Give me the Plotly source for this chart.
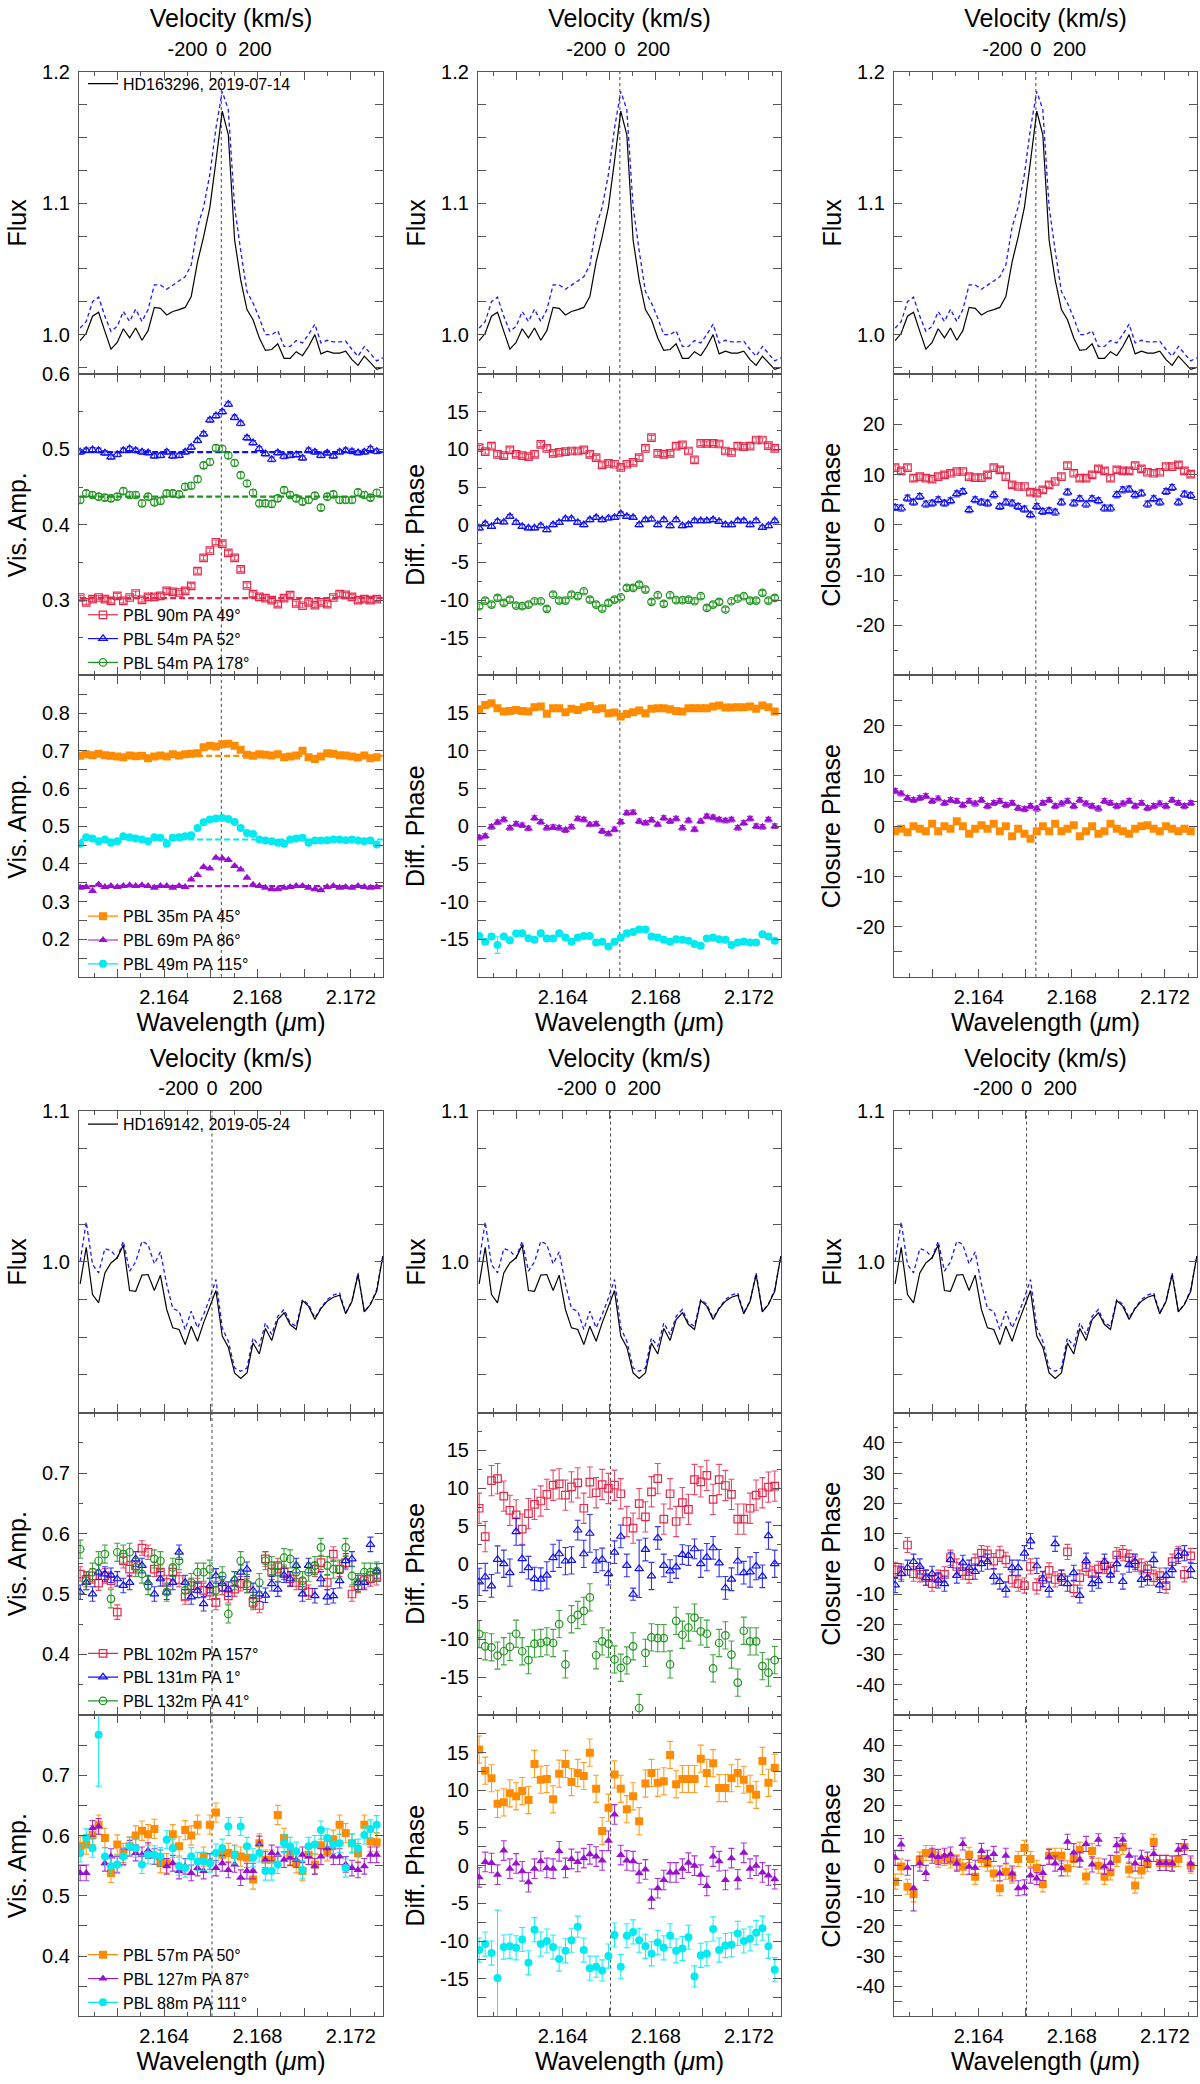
import plotly.graph_objects as go

W, H = 1200, 2084
FONT = "Liberation Sans, Arial, Helvetica, sans-serif"

# ---------------- wavelength grid (micron) ----------------
wl = [2.16040, 2.16066, 2.16093, 2.16119, 2.16146, 2.16172, 2.16199, 2.16225, 2.16252, 2.16278,
      2.16305, 2.16331, 2.16358, 2.16384, 2.16411, 2.16437, 2.16464, 2.16490, 2.16516, 2.16543,
      2.16569, 2.16596, 2.16622, 2.16649, 2.16675, 2.16702, 2.16728, 2.16755, 2.16781, 2.16808,
      2.16834, 2.16861, 2.16887, 2.16914, 2.16940, 2.16966, 2.16993, 2.17019, 2.17046, 2.17072,
      2.17099, 2.17125, 2.17152, 2.17178, 2.17205, 2.17231, 2.17258, 2.17284, 2.17311, 2.17337]
wl_vis = wl[:49]
wl_range = [2.16035, 2.17338]
wl_major_ticks = [2.162, 2.164, 2.166, 2.168, 2.170, 2.172]
wl_label_ticks = [2.164, 2.168, 2.172]
vel_ticks = [-200, 0, 200]
line_center = [2.16645, 2.16605]   # top star, bottom star
C_KMS = 299792.458

# ---------------- HD163296 (top) ----------------
flux_t_obs = [0.9955, 1.001, 1.014, 1.017, 1.0025, 0.989, 0.994, 1.0045, 0.9975, 1.005, 0.9957, 1.003, 1.0207,
              1.020, 1.015, 1.0176, 1.019, 1.0207, 1.029, 1.0554, 1.0743, 1.097, 1.132, 1.170, 1.152, 1.072,
              1.0416, 1.019, 1.0113, 0.9975, 0.988, 0.9887, 0.993, 0.982, 0.982, 0.987, 0.984, 0.991, 1.000,
              0.9854, 0.9874, 0.986, 0.986, 0.9874, 0.981, 0.9766, 0.9836, 0.9786, 0.9736, 0.975]
flux_t_cor = [1.005, 1.010, 1.025, 1.0285, 1.0139, 1.0025, 1.0063, 1.0176, 1.010, 1.0194, 1.010, 1.019, 1.0378,
              1.0378, 1.0345, 1.0378, 1.041, 1.044, 1.053, 1.082, 1.097, 1.122, 1.157, 1.185, 1.171, 1.097,
              1.064, 1.0327, 1.024, 1.0126, 1.000, 1.000, 1.003, 0.991, 0.991, 0.9955, 0.9937, 1.000, 1.008,
              0.9937, 0.9957, 0.9945, 0.9945, 0.995, 0.9887, 0.9836, 0.991, 0.986, 0.980, 0.9824]

va_t1_red = [0.3035, 0.297, 0.3013, 0.3035, 0.3013, 0.299, 0.3057, 0.299, 0.3035, 0.3088, 0.3004, 0.3044, 0.3044,
             0.3057, 0.3123, 0.311, 0.3101, 0.3123, 0.3189, 0.3386, 0.3561, 0.3658, 0.3768, 0.375, 0.3627, 0.3561,
             0.3408, 0.3197, 0.3079, 0.3044, 0.3026, 0.3, 0.2947, 0.3026, 0.3066, 0.2956, 0.2925, 0.2969, 0.2934,
             0.2969, 0.2947, 0.3035, 0.3079, 0.307, 0.3044, 0.3, 0.3013, 0.3, 0.3013]
va_t1_blue = [0.4965, 0.4987, 0.4996, 0.4987, 0.4952, 0.490, 0.4934, 0.4987, 0.5009, 0.4987, 0.4965, 0.4956, 0.4912,
              0.492, 0.4965, 0.4912, 0.492, 0.4965, 0.503, 0.5118, 0.5206, 0.539, 0.5447, 0.550, 0.560, 0.5425,
              0.5346, 0.5154, 0.5088, 0.5009, 0.4943, 0.4868, 0.4956, 0.4908, 0.492, 0.493, 0.4886, 0.4987, 0.4965,
              0.492, 0.4952, 0.4912, 0.4965, 0.4987, 0.4974, 0.4956, 0.4965, 0.5009, 0.4974]
va_t1_green = [0.4329, 0.4417, 0.4395, 0.4373, 0.436, 0.4351, 0.4373, 0.4447, 0.4395, 0.4395, 0.4285, 0.4373, 0.4298,
               0.4316, 0.4417, 0.4417, 0.4404, 0.4504, 0.4518, 0.4605, 0.4789, 0.4833, 0.5018, 0.5009, 0.492, 0.482,
               0.4658, 0.4548, 0.4425, 0.4285, 0.4285, 0.4276, 0.4351, 0.446, 0.4395, 0.4351, 0.4307, 0.4329, 0.4386,
               0.4228, 0.4373, 0.4404, 0.4329, 0.4329, 0.4329, 0.443, 0.4395, 0.436, 0.4425]
va_t1_cont = [0.3026, 0.4965, 0.4373]

va_t2_orange = [0.6868, 0.6912, 0.6885, 0.6921, 0.6885, 0.6868, 0.685, 0.6832, 0.6877, 0.6859, 0.6868, 0.6806, 0.685,
                0.6877, 0.685, 0.6912, 0.6877, 0.6912, 0.6921, 0.6938, 0.7097, 0.7132, 0.7115, 0.7176, 0.7185, 0.7132,
                0.7026, 0.6894, 0.6868, 0.6912, 0.6894, 0.6877, 0.6912, 0.6832, 0.685, 0.6877, 0.70, 0.6832, 0.678,
                0.685, 0.6938, 0.6921, 0.6885, 0.6877, 0.685, 0.6824, 0.6877, 0.6806, 0.6832]
va_t2_purple = [0.3367, 0.3384, 0.3279, 0.3455, 0.3384, 0.3411, 0.3384, 0.3411, 0.3429, 0.3411, 0.3429, 0.3411, 0.3367,
                0.3411, 0.3411, 0.3367, 0.3411, 0.3384, 0.3587, 0.3702, 0.3914, 0.3878, 0.416, 0.4143, 0.4099, 0.394,
                0.3852, 0.3631, 0.3446, 0.3411, 0.3367, 0.3323, 0.3323, 0.3367, 0.3384, 0.3411, 0.3411, 0.3367, 0.3323,
                0.3297, 0.3384, 0.3411, 0.3367, 0.3384, 0.3367, 0.3411, 0.3384, 0.3367, 0.3384]
va_t2_cyan = [0.4531, 0.4707, 0.4672, 0.4601, 0.4646, 0.4557, 0.4601, 0.4734, 0.4707, 0.4672, 0.4646, 0.4601, 0.4707,
              0.469, 0.4531, 0.469, 0.4707, 0.4734, 0.476, 0.4954, 0.5104, 0.5175, 0.5201, 0.5219, 0.5192, 0.5113,
              0.4954, 0.4822, 0.4795, 0.4646, 0.4619, 0.4601, 0.4557, 0.4531, 0.4646, 0.4672, 0.469, 0.4557, 0.4619,
              0.4619, 0.4628, 0.4646, 0.4646, 0.4628, 0.4646, 0.4619, 0.4601, 0.4619, 0.4513]
va_t2_cont = [0.6868, 0.3411, 0.4646]

dp_t1_red = [10.23, 9.70, 10.45, 9.35, 9.18, 9.93, 9.35, 9.18, 9.04, 9.35, 10.67, 10.15, 9.48, 9.62, 9.70, 9.79, 9.79,
             9.93, 9.35, 8.91, 7.94, 8.16, 8.03, 7.63, 8.03, 8.29, 8.91, 10.15, 11.56, 9.48, 9.35, 9.48, 10.45, 10.59,
             9.79, 8.6, 10.81, 10.81, 10.81, 10.72, 9.79, 9.62, 10.45, 10.37, 10.45, 11.25, 11.25, 10.5, 10.15]
dp_t1_blue = [-0.44, 0.13, -0.22, 0.44, 0.35, 1.10, 0.31, -0.22, -0.44, -0.44, -0.13, -0.66, 0.0, 0.31, 0.79, 0.79,
              0.31, 0.0, 0.66, 0.97, 0.66, 0.88, 0.97, 1.46, 1.10, 0.97, 0.0, 0.66, 0.75, 0.0, 0.66, -0.13, 0.66,
              -0.13, 0.0, 0.53, 0.53, 0.53, 0.66, 0.44, 0.0, 0.0, 0.53, 0.53, 0.0, 0.53, -0.35, -0.13, 0.53]
dp_t1_green = [-10.81, -10.06, -10.59, -9.70, -10.37, -9.93, -10.72, -10.81, -10.59, -10.15, -10.15, -11.16, -9.26,
               -10.06, -10.06, -9.26, -9.48, -8.82, -9.93, -10.59, -11.12, -10.37, -9.93, -9.62, -8.38, -8.38, -7.94,
               -8.60, -10.23, -9.35, -10.50, -9.35, -10.01, -10.01, -9.93, -10.15, -9.48, -11.03, -10.59, -10.23,
               -11.25, -10.15, -9.79, -9.48, -10.06, -10.06, -9.04, -10.06, -9.70]

dp_t2_orange = [15.52, 16.09, 16.30, 15.65, 15.22, 15.30, 15.43, 15.30, 15.22, 15.78, 15.87, 14.91, 15.65, 15.65, 15.13,
                15.57, 15.43, 15.78, 15.96, 15.52, 15.65, 15.0, 15.09, 14.57, 14.87, 15.13, 15.35, 15.0, 15.57, 15.65,
                15.65, 15.52, 15.30, 15.22, 15.65, 15.65, 15.65, 15.65, 15.87, 16.0, 15.74, 15.74, 15.78, 15.78, 15.87,
                15.57, 16.0, 15.78, 15.22]
dp_t2_purple = [-1.52, -1.30, -0.09, 0.52, 0.87, -0.22, 0.30, 0.13, -0.30, 1.09, 0.57, -0.22, -0.13, -0.22, -0.52,
                -0.09, 1.0, 0.87, 0.22, 0.30, -0.65, -1.0, -0.43, 0.57, 1.74, 1.83, 0.65, 0.43, 0.83, 0.22, 1.09, 0.65,
                1.0, -0.22, 0.74, -0.43, 0.65, 1.30, 1.17, 0.87, 0.74, 0.87, -0.22, 0.43, 1.0, 0.0, -0.09, 0.87, 0.0]
dp_t2_cyan = [-14.57, -15.35, -14.65, -15.78, -14.65, -15.13, -14.26, -14.22, -14.87, -15.09, -14.22, -14.91, -14.91,
              -14.22, -14.78, -15.35, -14.78, -14.57, -14.57, -15.43, -15.35, -15.96, -15.35, -14.78, -14.22, -14.04,
              -13.70, -13.70, -14.65, -14.78, -15.09, -15.35, -15.0, -15.09, -15.22, -15.65, -15.87, -14.91, -14.78,
              -15.0, -15.09, -15.78, -15.43, -15.30, -15.43, -15.43, -14.35, -14.65, -15.22]
err_dp_t2_cyan = [0.3, 0.3, 0.3, 1.1, 0.3, 0.3, 0.3, 0.3, 0.3, 0.3, 0.3, 0.3, 0.3, 0.3, 0.3, 0.3, 0.3, 0.3, 0.3, 0.3,
                  0.3, 0.3, 0.3, 0.3, 0.3, 0.3, 0.3, 0.3, 0.3, 0.3, 0.3, 0.3, 0.3, 0.3, 0.3, 0.3, 0.3, 0.3, 0.3, 0.3,
                  0.3, 0.3, 0.3, 0.3, 0.3, 0.3, 0.3, 0.3, 0.3]

cp_t1_red = [11.39, 10.73, 11.39, 9.27, 9.60, 9.27, 9.07, 9.60, 9.93, 10.26, 10.60, 10.60, 9.60, 9.40, 9.40, 9.93,
             11.39, 10.93, 9.60, 7.95, 7.62, 7.62, 6.49, 6.29, 6.95, 7.95, 8.61, 9.60, 11.79, 10.26, 9.27, 9.27, 9.93,
             11.13, 10.73, 9.27, 10.93, 10.73, 10.73, 11.79, 11.13, 10.46, 10.26, 10.46, 11.59, 11.59, 11.92, 10.73,
             10.07]
cp_t1_blue = [3.44, 3.31, 5.30, 4.50, 5.63, 4.11, 4.30, 4.97, 4.30, 4.77, 6.16, 6.62, 2.98, 4.97, 4.50, 4.30, 5.96,
              3.64, 4.50, 4.30, 3.64, 3.11, 1.99, 3.64, 2.65, 2.78, 2.52, 4.50, 6.49, 4.30, 5.17, 4.11, 5.17, 4.77,
              3.31, 3.31, 5.96, 6.95, 7.09, 5.96, 6.29, 4.11, 5.17, 4.50, 6.62, 7.42, 4.50, 6.09, 5.83]
cp_t2_purple = [7.0, 6.5, 5.6, 5.2, 5.6, 6.0, 5.0, 5.5, 4.6, 5.2, 5.0, 4.2, 5.0, 4.5, 5.2, 4.0, 4.6, 5.0, 4.2, 4.6,
                3.6, 3.4, 4.0, 3.5, 4.6, 5.2, 4.0, 4.5, 5.0, 4.0, 5.2, 4.5, 4.0, 3.5, 5.0, 4.6, 4.0, 4.5, 5.0, 4.0,
                4.6, 3.6, 4.0, 4.5, 4.0, 5.2, 4.6, 4.0, 4.6]
cp_t2_orange = [-1.0, -0.5, -1.2, 0.0, -0.5, -1.0, 0.5, -1.0, 0.0, -0.5, 1.0, 0.0, -1.5, -0.5, 0.2, -0.5, 0.5, -1.0,
                0.0, -2.0, -0.5, -1.5, -2.5, -1.0, 0.0, -1.0, 0.5, -1.0, -0.5, 0.2, -2.0, -1.0, 0.0, -1.5, -1.0, 0.5,
                -0.5, -1.0, -1.5, -0.5, 0.0, 0.2, -0.5, -1.0, 0.0, -0.5, -1.0, -0.5, -1.0]

# ---------------- HD169142 (bottom) ----------------
flux_b_obs = [0.9854, 1.0097, 0.9783, 0.9728, 0.9927, 0.9993, 1.0027, 1.0111, 0.981, 0.9805, 0.9912, 0.9916, 0.981,
              0.9912, 0.9684, 0.9562, 0.9551, 0.9451, 0.9573, 0.9473, 0.9595, 0.9699, 0.981, 0.9507, 0.9434, 0.9263,
              0.9226, 0.9263, 0.9462, 0.9389, 0.9558, 0.9478, 0.9617, 0.9662, 0.9584, 0.9551, 0.9743, 0.9706, 0.9617,
              0.969, 0.9739, 0.9765, 0.9779, 0.9655, 0.9739, 0.9916, 0.9668, 0.9717, 0.9805, 1.0038]
flux_b_cor = [1.0004, 1.0265, 0.9982, 0.9927, 1.0088, 1.0075, 1.0027, 1.0137, 0.9938, 1.0, 1.0137, 1.0115, 0.9987,
              1.0066, 0.985, 0.969, 0.9673, 0.9551, 0.9673, 0.9562, 0.965, 0.9761, 0.9883, 0.9562, 0.9473, 0.9296,
              0.9274, 0.9296, 0.9496, 0.944, 0.9595, 0.9518, 0.9639, 0.9684, 0.9595, 0.9573, 0.975, 0.9717, 0.9628,
              0.9695, 0.975, 0.9779, 0.9794, 0.9662, 0.9739, 0.9927, 0.9668, 0.9721, 0.9816, 1.0038]

va_b1_red = [0.533, 0.524, 0.530, 0.518, 0.530, 0.522, 0.470, 0.555, 0.541, 0.547, 0.576, 0.569, 0.541, 0.536, 0.519,
             0.536, 0.524, 0.495, 0.514, 0.514, 0.506, 0.503, 0.486, 0.511, 0.497, 0.508, 0.517, 0.514, 0.486, 0.481,
             0.558, 0.536, 0.547, 0.536, 0.525, 0.519, 0.514, 0.503, 0.541, 0.552, 0.519, 0.566, 0.541, 0.552, 0.500,
             0.514, 0.522, 0.525, 0.527]
va_b1_blue = [0.503, 0.519, 0.500, 0.536, 0.533, 0.531, 0.525, 0.514, 0.519, 0.558, 0.547, 0.519, 0.500, 0.525, 0.503,
              0.519, 0.569, 0.519, 0.495, 0.506, 0.484, 0.514, 0.530, 0.517, 0.508, 0.525, 0.536, 0.541, 0.506, 0.500,
              0.498, 0.517, 0.508, 0.531, 0.525, 0.547, 0.500, 0.547, 0.497, 0.525, 0.495, 0.497, 0.522, 0.555, 0.558,
              0.519, 0.519, 0.582, 0.538]
va_b1_green = [0.574, 0.522, 0.536, 0.555, 0.566, 0.492, 0.569, 0.566, 0.569, 0.544, 0.533, 0.514, 0.558, 0.555, 0.503,
               0.544, 0.555, 0.506, 0.519, 0.536, 0.536, 0.541, 0.506, 0.530, 0.467, 0.522, 0.555, 0.517, 0.492, 0.519,
               0.555, 0.547, 0.536, 0.560, 0.558, 0.536, 0.522, 0.536, 0.547, 0.577, 0.547, 0.541, 0.541, 0.577, 0.530,
               0.519, 0.536, 0.536, 0.538]

va_b2_orange = [0.582, 0.585, 0.601, 0.618, 0.596, 0.538, 0.585, 0.571, 0.582, 0.600, 0.608, 0.602, 0.611, 0.554,
                0.554, 0.602, 0.582, 0.609, 0.600, 0.618, 0.565, 0.618, 0.638, 0.568, 0.571, 0.568, 0.565, 0.563, 0.527,
                0.587, 0.560, 0.560, 0.634, 0.596, 0.568, 0.554, 0.541, 0.568, 0.552, 0.584, 0.574, 0.593, 0.618, 0.604,
                0.587, 0.571, 0.618, 0.590, 0.589]
va_b2_purple = [0.538, 0.538, 0.612, 0.615, 0.554, 0.565, 0.552, 0.565, 0.579, 0.571, 0.568, 0.575, 0.565, 0.563,
                0.549, 0.554, 0.541, 0.549, 0.538, 0.546, 0.541, 0.557, 0.546, 0.554, 0.543, 0.552, 0.530, 0.541, 0.541,
                0.586, 0.560, 0.571, 0.568, 0.560, 0.563, 0.560, 0.568, 0.565, 0.549, 0.565, 0.579, 0.565, 0.565, 0.552,
                0.546, 0.543, 0.549, 0.568, 0.568]
va_b2_cyan = [0.571, 0.596, 0.579, 0.767, 0.565, 0.549, 0.552, 0.565, 0.582, 0.579, 0.552, 0.568, 0.568, 0.565, 0.593,
              0.579, 0.549, 0.546, 0.565, 0.557, 0.557, 0.554, 0.571, 0.579, 0.615, 0.568, 0.615, 0.582, 0.563, 0.571,
              0.541, 0.541, 0.552, 0.587, 0.582, 0.574, 0.543, 0.582, 0.585, 0.609, 0.596, 0.585, 0.587, 0.546, 0.587,
              0.579, 0.601, 0.611, 0.618]
err_va_b2_cyan = [0.015, 0.015, 0.015, 0.085, 0.015, 0.015, 0.015, 0.015, 0.015, 0.015, 0.015, 0.015, 0.015, 0.015,
                  0.015, 0.015, 0.015, 0.015, 0.015, 0.015, 0.015, 0.015, 0.015, 0.015, 0.015, 0.015, 0.015, 0.015,
                  0.015, 0.015, 0.015, 0.015, 0.015, 0.015, 0.015, 0.015, 0.015, 0.015, 0.015, 0.015, 0.015, 0.015,
                  0.015, 0.015, 0.015, 0.015, 0.015, 0.015, 0.015]

dp_b1_red = [7.34, 3.58, 11.0, 11.27, 8.95, 7.07, 6.46, 4.59, 6.64, 7.86, 8.30, 9.17, 10.39, 10.57, 9.08, 10.17, 10.70,
             7.34, 10.79, 9.39, 10.48, 9.96, 10.39, 9.26, 5.59, 4.72, 7.95, 6.20, 9.52, 11.27, 5.90, 9.26, 5.59, 8.08,
             7.20, 11.14, 10.83, 11.70, 8.52, 11.14, 10.35, 9.17, 5.90, 5.90, 7.34, 9.08, 9.39, 10.13, 10.26]
dp_b1_blue = [-2.40, -1.75, -2.93, 0.57, 0.0, -1.18, 4.24, 0.66, -0.52, -1.97, -2.05, -1.53, 0.79, 1.31, 0.35, 0.44,
              4.45, 1.31, 4.02, 0.35, 0.57, -1.31, 1.53, 3.62, -0.22, -4.02, -0.66, 1.88, -1.62, 3.41, -0.22, -0.96,
              -0.44, 1.22, 1.09, 1.97, 0.0, 0.87, 2.10, 0.09, -3.19, -2.05, 0.35, -1.18, -1.09, -0.31, -1.66, 3.71, 0.0]
err_dp_b1_blue = [1.8, 1.8, 1.5, 1.8, 1.8, 1.8, 1.8, 1.8, 1.5, 1.5, 1.5, 1.8, 1.8, 1.8, 1.8, 1.8, 1.3, 1.8, 2.5, 1.5,
                  1.5, 1.5, 1.5, 1.5, 1.5, 0.8, 3.8, 1.5, 1.8, 1.5, 1.5, 1.5, 1.5, 1.3, 1.3, 1.3, 1.8, 1.8, 1.5, 1.8,
                  1.5, 1.5, 1.8, 1.5, 2.0, 1.8, 1.5, 1.8, 1.8]
dp_b1_green = [-9.30, -10.92, -11.05, -12.14, -11.57, -11.00, -9.26, -11.57, -12.75, -10.57, -10.48, -10.26, -10.48,
               -7.99, -13.32, -7.34, -6.77, -6.24, -4.45, -12.10, -10.26, -10.57, -12.66, -13.76, -12.79, -10.92,
               -19.08, -11.79, -9.74, -9.83, -9.83, -13.32, -7.55, -9.39, -8.43, -7.12, -8.95, -9.26, -13.84, -10.48,
               -9.48, -12.01, -15.72, -8.86, -10.26, -10.26, -13.54, -14.41, -12.75]

dp_b2_orange = [15.4, 12.6, 11.6, 8.2, 8.4, 9.6, 9.2, 9.9, 8.7, 13.5, 11.4, 11.5, 8.8, 12.2, 13.5, 11.1, 12.3, 11.9,
                15.0, 10.2, 4.6, 7.7, 12.1, 10.2, 7.5, 9.2, 5.9, 10.9, 12.3, 11.0, 11.2, 14.7, 10.8, 11.5, 11.5, 11.5,
                14.2, 12.3, 13.6, 10.3, 10.3, 11.6, 12.3, 11.4, 10.2, 9.4, 13.9, 11.0, 13.0]
dp_b2_purple = [-1.55, 0.5, 0.35, -1.2, 2.0, -0.4, 0.3, -0.75, -2.2, -0.4, 0.6, -0.3, -0.4, 1.9, -0.3, 0.9, 0.5, 1.0,
                1.5, 1.2, 0.7, 3.3, 6.8, 1.4, 0.7, 0.6, -1.0, -0.5, -4.4, -3.0, -1.9, -0.9, -0.9, -0.4, 0.4, 0.0,
                -1.2, -2.7, 1.2, 0.6, -1.9, 1.0, -1.8, 1.7, -0.4, 0.0, -0.9, -1.3, -1.8]
dp_b2_cyan = [-11.2, -10.4, -11.6, -14.9, -10.8, -10.7, -10.9, -9.8, -12.9, -8.5, -10.4, -10.0, -10.8, -12.4, -11.3,
              -9.9, -8.1, -11.2, -13.6, -13.4, -13.9, -12.0, -9.2, -13.4, -9.3, -8.8, -9.9, -10.7, -11.7, -10.2, -10.9,
              -9.3, -11.3, -11.0, -9.5, -14.7, -11.9, -11.7, -8.4, -11.2, -10.6, -10.5, -9.0, -10.0, -9.7, -8.9, -8.3,
              -10.7, -13.8]
err_dp_b2_cyan = [1.6, 1.6, 1.6, 9.0, 1.6, 1.6, 1.6, 1.6, 1.6, 1.6, 1.6, 1.6, 1.6, 1.6, 1.6, 1.6, 1.4, 1.6, 1.6, 1.4,
                  1.4, 1.6, 1.6, 1.6, 1.6, 1.6, 1.6, 1.6, 1.6, 1.6, 1.6, 1.6, 1.6, 1.6, 1.6, 1.4, 1.6, 1.6, 1.6, 1.6,
                  1.6, 1.6, 1.6, 1.6, 1.6, 1.6, 1.6, 1.6, 1.6]

cp_b1_red = [-2.0, -2.6, 6.2, -3.3, -3.5, -4.6, -6.6, -4.6, -3.5, 2.0, -0.9, -2.6, -3.9, 0.7, 3.5, 3.3, 0.9, 3.3, 1.3,
             -5.2, -6.6, -7.2, -0.9, -7.5, -5.2, -2.2, -5.2, -4.6, 3.9, -8.3, -4.6, -1.3, -3.3, -1.7, -0.7, -2.0, 2.9,
             3.5, 2.0, 0.0, -0.9, -1.7, -4.6, -3.9, -7.2, 0.7, 3.3, -3.5, 2.6]
cp_b1_blue = [-7.0, -3.3, -1.3, 0.7, -0.9, -4.6, -3.3, -5.5, -6.6, 1.3, -3.9, 0.3, -1.3, -2.6, 0.0, 0.7, -4.2, -5.9,
              -8.5, -1.3, -1.3, 3.5, 7.5, -0.7, -5.0, -8.5, 6.6, -4.6, -6.6, -3.0, -10.5, 1.0, -6.6, -5.6, 0.7, -3.7,
              0.0, -5.9, -0.3, 0.7, -5.2, -4.6, 1.3, -7.0, -3.9, -2.0, 2.6, 3.5, -2.0]
cp_b2_purple = [2.6, 7.0, -0.7, -7.5, 0.7, -2.4, 3.3, 2.9, 3.3, 3.7, 0.7, 7.2, -0.4, -0.7, 4.9, 2.6, 3.9, -2.6, 3.3,
                -2.6, -7.5, -7.2, -3.3, -4.3, -2.4, 2.9, 0.7, -0.9, 7.9, 4.3, 2.0, 7.2, 0.4, 8.6, -0.3, 0.9, 6.8, 8.6,
                3.3, 0.7, 2.6, 2.0, 3.9, 0.9, 0.9, 0.7, 5.3, 6.2, 0.7]
err_cp_b2_purple = [2.5, 2.0, 2.5, 7.5, 2.5, 2.5, 2.5, 2.5, 2.5, 2.5, 2.5, 2.0, 2.5, 2.5, 2.5, 2.5, 2.5, 2.5, 2.5, 2.5,
                    2.5, 2.5, 2.5, 2.0, 2.5, 2.5, 2.5, 2.5, 2.5, 3.0, 2.5, 2.5, 2.5, 2.0, 2.5, 2.5, 2.5, 2.0, 2.5, 2.5,
                    2.5, 2.5, 2.5, 2.5, 2.5, 2.5, 2.0, 2.5, 2.5]
cp_b2_orange = [-5.3, -0.3, -7.0, -9.5, 2.0, 4.2, 4.2, 2.0, 2.6, 1.7, 1.1, -0.4, 3.6, -3.7, 2.2, 0.7, -2.6, -7.5, -2.0,
                -3.3, 2.2, 5.9, 2.2, -0.7, -6.2, 3.3, 3.3, 3.3, -0.9, 2.2, 5.3, -3.6, 4.9, 0.0, -3.7, -2.2, 2.2, 6.2,
                -1.3, -6.6, -1.6, 0.5, 7.9, 0.9, 0.9, 0.7, 2.2, 6.2, 0.0]

star_labels = ["HD163296, 2019-07-14", "HD169142, 2019-05-24"]
bl_labels_t1 = ["PBL 90m PA 49°", "PBL 54m PA 52°", "PBL 54m PA 178°"]
bl_labels_t2 = ["PBL 35m PA 45°", "PBL 69m PA 86°", "PBL 49m PA 115°"]
bl_labels_b1 = ["PBL 102m PA 157°", "PBL 131m PA 1°", "PBL 132m PA 41°"]
bl_labels_b2 = ["PBL 57m PA 50°", "PBL 127m PA 87°", "PBL 88m PA 111°"]

# ---------------- styles ----------------
RED, BLUE, GREEN = "#E32A4C", "#1010F0", "#1E941E"
ORANGE, PURPLE, CYAN = "#FF8C00", "#9A10D0", "#00EAF0"
FRAME = "#555555"
ST = {
    "red": dict(color=RED, symbol="square-open", size=7.5),
    "blue": dict(color=BLUE, symbol="triangle-up-open", size=7.5),
    "green": dict(color=GREEN, symbol="circle-open", size=7.5),
    "orange": dict(color=ORANGE, symbol="square", size=8),
    "purple": dict(color=PURPLE, symbol="triangle-up", size=8),
    "cyan": dict(color=CYAN, symbol="circle", size=8),
}

col_px = [(79, 383), (478, 781), (894, 1197)]
row_px = [[(61, 365), (365, 668), (668, 971)], [(1106, 1409), (1409, 1713), (1713, 2016)]]


def pid(g, r, c):
    return g * 9 + r * 3 + c + 1


def ax(p):
    return ("x" if p == 1 else f"x{p}"), ("y" if p == 1 else f"y{p}")


def fmt_ticks(vals, fmt):
    # plain hyphen-minus labels, as in the reference
    return [format(v, fmt) for v in vals]


fig = go.Figure()


def rgba(hexc, a):
    h = hexc.lstrip("#")
    return f"rgba({int(h[0:2],16)},{int(h[2:4],16)},{int(h[4:6],16)},{a})"


def add_pts(p, y, err, key):
    xa, ya = ax(p)
    s = ST[key]
    if isinstance(err, list):
        ey = dict(type="data", array=err, visible=True)
    else:
        ey = dict(type="constant", value=err, visible=True)
    ey.update(color=rgba(s["color"], 0.85), thickness=1.1, width=3)
    filled = not s["symbol"].endswith("open")
    fig.add_trace(go.Scatter(
        x=wl_vis, y=y, mode="markers", xaxis=xa, yaxis=ya, showlegend=False, hoverinfo="skip",
        error_y=ey,
        marker=dict(symbol=s["symbol"], size=s["size"], color=s["color"],
                    line=dict(color=s["color"], width=0 if filled else 1.2))))


def add_legend_item(p, key, name, legend):
    xa, ya = ax(p)
    s = ST[key]
    filled = not s["symbol"].endswith("open")
    fig.add_trace(go.Scatter(
        x=[None], y=[None], mode="lines+markers", xaxis=xa, yaxis=ya, name=name, legend=legend,
        line=dict(color=s["color"], width=1.2),
        marker=dict(symbol=s["symbol"], size=s["size"], color=s["color"],
                    line=dict(color=s["color"], width=0 if filled else 1.2))))


def add_cont(p, level, key):
    xa, ya = ax(p)
    fig.add_trace(go.Scatter(x=[wl[0], wl[-1]], y=[level, level], mode="lines", xaxis=xa, yaxis=ya,
                             showlegend=False, hoverinfo="skip",
                             line=dict(color=ST[key]["color"], width=2.2, dash="6px,3px")))


flux_sets = [(flux_t_obs, flux_t_cor), (flux_b_obs, flux_b_cor)]
legend_names = {0: ["legend", "legend2", "legend3"], 1: ["legend4", "legend5", "legend6"]}

for g in range(2):
    obs, cor = flux_sets[g]
    for c in range(3):
        p = pid(g, 0, c)
        xa, ya = ax(p)
        fig.add_trace(go.Scatter(x=wl, y=cor, mode="lines", xaxis=xa, yaxis=ya, showlegend=False,
                                 hoverinfo="skip", line=dict(color="#1a1aff", width=1.3, dash="4px,3px")))
        fig.add_trace(go.Scatter(x=wl, y=obs, mode="lines", xaxis=xa, yaxis=ya, name=star_labels[g],
                                 legend=legend_names[g][0], showlegend=(c == 0), hoverinfo="skip",
                                 line=dict(color="black", width=1.2)))

# top group
p = pid(0, 1, 0)
for lvl, k in zip(va_t1_cont, ["red", "blue", "green"]):
    add_cont(p, lvl, k)
add_pts(p, va_t1_red, 0.003, "red")
add_pts(p, va_t1_blue, 0.003, "blue")
add_pts(p, va_t1_green, 0.004, "green")
for k, n in zip(["red", "blue", "green"], bl_labels_t1):
    add_legend_item(p, k, n, "legend2")
p = pid(0, 2, 0)
for lvl, k in zip(va_t2_cont, ["orange", "purple", "cyan"]):
    add_cont(p, lvl, k)
add_pts(p, va_t2_orange, 0.002, "orange")
add_pts(p, va_t2_purple, 0.002, "purple")
add_pts(p, va_t2_cyan, 0.002, "cyan")
for k, n in zip(["orange", "purple", "cyan"], bl_labels_t2):
    add_legend_item(p, k, n, "legend3")
p = pid(0, 1, 1)
add_pts(p, dp_t1_red, 0.3, "red")
add_pts(p, dp_t1_blue, 0.25, "blue")
add_pts(p, dp_t1_green, 0.3, "green")
p = pid(0, 2, 1)
add_pts(p, dp_t2_orange, 0.25, "orange")
add_pts(p, dp_t2_purple, 0.3, "purple")
add_pts(p, dp_t2_cyan, err_dp_t2_cyan, "cyan")
p = pid(0, 1, 2)
add_pts(p, cp_t1_red, 0.5, "red")
add_pts(p, cp_t1_blue, 0.6, "blue")
p = pid(0, 2, 2)
add_pts(p, cp_t2_purple, 0.5, "purple")
add_pts(p, cp_t2_orange, 0.5, "orange")

# bottom group
p = pid(1, 1, 0)
add_pts(p, va_b1_red, 0.012, "red")
add_pts(p, va_b1_blue, 0.012, "blue")
add_pts(p, va_b1_green, 0.015, "green")
for k, n in zip(["red", "blue", "green"], bl_labels_b1):
    add_legend_item(p, k, n, "legend5")
p = pid(1, 2, 0)
add_pts(p, va_b2_orange, 0.016, "orange")
add_pts(p, va_b2_purple, 0.013, "purple")
add_pts(p, va_b2_cyan, err_va_b2_cyan, "cyan")
for k, n in zip(["orange", "purple", "cyan"], bl_labels_b2):
    add_legend_item(p, k, n, "legend6")
p = pid(1, 1, 1)
add_pts(p, dp_b1_red, 2.0, "red")
add_pts(p, dp_b1_blue, err_dp_b1_blue, "blue")
add_pts(p, dp_b1_green, 1.8, "green")
p = pid(1, 2, 1)
add_pts(p, dp_b2_orange, 1.8, "orange")
add_pts(p, dp_b2_purple, 1.3, "purple")
add_pts(p, dp_b2_cyan, err_dp_b2_cyan, "cyan")
p = pid(1, 1, 2)
add_pts(p, cp_b1_red, 2.5, "red")
add_pts(p, cp_b1_blue, 2.5, "blue")
p = pid(1, 2, 2)
add_pts(p, cp_b2_orange, 2.5, "orange")
add_pts(p, cp_b2_purple, err_cp_b2_purple, "purple")

# ---------------- axes ----------------
TICKF = dict(family=FONT, size=20, color="black")
TITLEF = dict(family=FONT, size=25, color="black")
layout = {}
shapes = []

yspec = {
    (0, 0): dict(range=[0.97, 1.2], tickvals=[1.0, 1.1, 1.2], minor=0.025, fmt=".1f"),
    (1, 0): dict(range=[0.9, 1.1], tickvals=[1.0, 1.1], minor=0.025, fmt=".1f"),
}
titles_col = ["Vis. Amp.", "Diff. Phase", "Closure Phase"]


def ycfg(g, r, c):
    if r == 0:
        d = dict(yspec[(g, 0)])
        d["title"] = "Flux"
        return d
    if c == 0:
        if g == 0 and r == 1:
            d = dict(range=[0.2, 0.6], tickvals=[0.3, 0.4, 0.5, 0.6])
        elif g == 0:
            d = dict(range=[0.1, 0.9], tickvals=[0.2, 0.3, 0.4, 0.5, 0.6, 0.7, 0.8])
        else:
            d = dict(range=[0.3, 0.8], tickvals=[0.4, 0.5, 0.6, 0.7])
        d.update(minor=0.05, fmt=".1f")
    elif c == 1:
        d = dict(range=[-20, 20], tickvals=[-15, -10, -5, 0, 5, 10, 15], minor=2.5, fmt="d")
    else:
        if g == 0:
            d = dict(range=[-30, 30], tickvals=[-20, -10, 0, 10, 20], minor=5, fmt="d")
        else:
            d = dict(range=[-50, 50], tickvals=[-40, -30, -20, -10, 0, 10, 20, 30, 40], minor=5, fmt="d")
    d["title"] = titles_col[c]
    return d


for g in range(2):
    for r in range(3):
        for c in range(3):
            p = pid(g, r, c)
            x0, x1 = col_px[c]
            y0, y1 = row_px[g][r]
            xk = "xaxis" if p == 1 else f"xaxis{p}"
            yk = "yaxis" if p == 1 else f"yaxis{p}"
            xa, ya = ax(p)
            layout[xk] = dict(
                domain=[x0 / W, x1 / W], anchor=ya, range=wl_range, autorange=False,
                showline=True, linecolor=FRAME, linewidth=1.2, mirror="allticks",
                ticks="inside", ticklen=8, tickwidth=1.1, tickcolor=FRAME,
                tickmode="array", tickvals=wl_major_ticks, showticklabels=False,
                minor=dict(dtick=0.001, tick0=2.160, ticks="inside", ticklen=4, tickcolor=FRAME, tickwidth=1.1),
                showgrid=False, zeroline=False,
            )
            yc = ycfg(g, r, c)
            layout[yk] = dict(
                domain=[1 - y1 / H, 1 - y0 / H], anchor=xa, range=yc["range"], autorange=False,
                showline=True, linecolor=FRAME, linewidth=1.2, mirror="allticks",
                ticks="inside", ticklen=8, tickwidth=1.1, tickcolor=FRAME,
                tickmode="array", tickvals=yc["tickvals"], ticktext=fmt_ticks(yc["tickvals"], yc["fmt"]),
                tickfont=TICKF, ticklabelstandoff=4,
                minor=dict(dtick=yc["minor"], tick0=0, ticks="inside", ticklen=4, tickcolor=FRAME, tickwidth=1.1),
                showgrid=False, zeroline=False,
                title=dict(text=yc["title"], font=TITLEF, standoff=8),
            )
            shapes.append(dict(type="line", xref=xa, yref=f"{ya} domain", x0=line_center[g], x1=line_center[g],
                               y0=0, y1=1, line=dict(color="#444444", width=1, dash="3px,3px"), layer="below"))

# velocity axes on top of flux panels, wavelength label axes under bottom panels
for g in range(2):
    lc = line_center[g]
    vr = [(wl_range[0] - lc) / lc * C_KMS, (wl_range[1] - lc) / lc * C_KMS]
    for c in range(3):
        p = pid(g, 0, c)
        xa, ya = ax(p)
        vn = 19 + g * 3 + c
        layout[f"xaxis{vn}"] = dict(
            overlaying=xa, anchor=ya, side="top", range=vr, autorange=False,
            tickmode="array", tickvals=vel_ticks, ticktext=fmt_ticks(vel_ticks, "d"),
            ticks="", showline=False,
            showgrid=False, zeroline=False, tickfont=TICKF, ticklabelstandoff=11,
            title=dict(text="Velocity (km/s)", font=TITLEF, standoff=2),
        )
        fig.add_trace(go.Scatter(x=[0], y=[1.0], xaxis=f"x{vn}", yaxis=ya, mode="markers",
                                 marker=dict(opacity=0), showlegend=False, hoverinfo="skip"))

        pb = pid(g, 2, c)
        xb, yb = ax(pb)
        ln = 25 + g * 3 + c
        layout[f"xaxis{ln}"] = dict(
            overlaying=xb, anchor=yb, side="bottom", range=wl_range, autorange=False,
            tickmode="array", tickvals=wl_label_ticks, ticktext=fmt_ticks(wl_label_ticks, ".3f"),
            ticks="", showline=False,
            showgrid=False, zeroline=False, tickfont=TICKF, ticklabelstandoff=6,
            title=dict(text="Wavelength (<i>μ</i>m)", font=TITLEF, standoff=4),
        )
        fig.add_trace(go.Scatter(x=[wl[0]], y=[0.5], xaxis=f"x{ln}", yaxis=yb, mode="markers",
                                 marker=dict(opacity=0), showlegend=False, hoverinfo="skip"))

LEGF = dict(family=FONT, size=16, color="black")


def leg(xpx, ypx):
    return dict(x=xpx / W, y=1 - ypx / H, xanchor="left", yanchor="top", bgcolor="rgba(0,0,0,0)",
                borderwidth=0, font=LEGF, tracegroupgap=0, itemwidth=30)


layout["legend"] = leg(83, 56)
layout["legend2"] = leg(83, 590)
layout["legend3"] = leg(83, 893)
layout["legend4"] = leg(83, 1102)
layout["legend5"] = leg(83, 1634)
layout["legend6"] = leg(83, 1937)

fig.update_layout(
    width=W, height=H, margin=dict(l=0, r=0, t=0, b=0),
    paper_bgcolor="white", plot_bgcolor="white",
    font=dict(family=FONT, size=20, color="black"),
    shapes=shapes, **layout,
)

fig.write_html("out.html", config={"displayModeBar": False},
               post_script="document.body.style.margin='0px';document.body.style.padding='0px';")
